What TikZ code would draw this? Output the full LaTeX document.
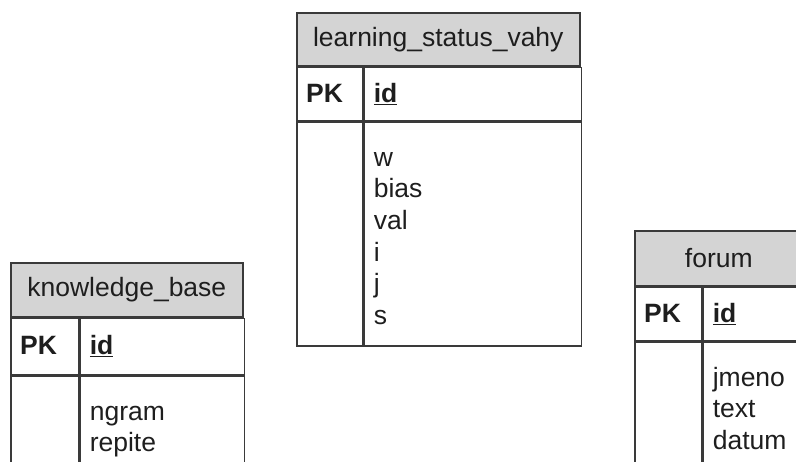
\documentclass[tikz,border=0pt]{standalone}
\usepackage{fontspec}
\setmainfont{Liberation Sans}
\usetikzlibrary{positioning}
\definecolor{tableline}{HTML}{3A3A3A}
\definecolor{headgray}{HTML}{D4D4D4}
\definecolor{textdark}{HTML}{1E1E1E}

\begin{document}
\begin{tikzpicture}
[x=1pt,y=-1pt,%
  cell/.style={rectangle,draw=tableline,line width=1.6pt,inner sep=0pt,anchor=north west},%
  head/.style={cell,fill=headgray,text=textdark,font=\fontsize{26.5}{31.5}\selectfont},%
  txt/.style={inner sep=0pt,anchor=base west,text=textdark,font=\fontsize{26.5}{31.5}\selectfont},%
  key/.style={txt,font=\fontsize{26.5}{31.5}\selectfont\bfseries}]
\useasboundingbox (0,0) rectangle (796,461);
\clip (0,0) rectangle (796,461);
% learning_status_vahy
\node[head,minimum width=283pt,minimum height=53pt] (lsvhead) at (296,12) {learning\_status\_vahy};
\node[cell,minimum width=66pt,minimum height=53pt] (lsvpk) at (lsvhead.south west) {};
\node[cell,minimum width=217pt,minimum height=53pt] (lsvid) at (lsvpk.north east) {};
\node[cell,minimum width=66pt,minimum height=224pt] (lsvbl) at (lsvpk.south west) {};
\node[cell,minimum width=217pt,minimum height=224pt] (lsvbr) at (lsvpk.south east) {};
\node[key,xshift=10pt,yshift=-8.5pt] (lsvpktxt) at (lsvpk.west) {PK};
\node[key,xshift=10pt,yshift=-8.5pt] (lsvidtxt) at (lsvid.west) {\underline{id}};
\foreach \a [count=\k] in {w,bias,val,i,j,s}
  \node[txt,xshift=10pt,yshift={-45pt-(\k-1)*31.6pt}] (lsv-\k) at (lsvbr.north west) {\a};
% knowledge_base
\node[head,minimum width=232pt,minimum height=54pt] (kbhead) at (10,262) {knowledge\_base};
\node[cell,minimum width=68pt,minimum height=56pt] (kbpk) at (kbhead.south west) {};
\node[cell,minimum width=164pt,minimum height=56pt] (kbid) at (kbpk.north east) {};
\node[cell,minimum width=68pt,minimum height=150pt] (kbbl) at (kbpk.south west) {};
\node[cell,minimum width=164pt,minimum height=150pt] (kbbr) at (kbpk.south east) {};
\node[key,xshift=10pt,yshift=-8.5pt] (kbpktxt) at (kbpk.west) {PK};
\node[key,xshift=10pt,yshift=-8.5pt] (kbidtxt) at (kbid.west) {\underline{id}};
\foreach \a [count=\k] in {ngram,repite}
  \node[txt,xshift=10pt,yshift={-45pt-(\k-1)*31.6pt}] (kb-\k) at (kbbr.north west) {\a};
% forum
\node[head,minimum width=168pt,minimum height=55pt] (fohead) at (634,230) {forum};
\node[cell,minimum width=67pt,minimum height=53pt] (fopk) at (fohead.south west) {};
\node[cell,minimum width=101pt,minimum height=53pt] (foid) at (fopk.north east) {};
\node[cell,minimum width=67pt,minimum height=180pt] (fobl) at (fopk.south west) {};
\node[cell,minimum width=101pt,minimum height=180pt] (fobr) at (fopk.south east) {};
\node[key,xshift=10pt,yshift=-8.5pt] (fopktxt) at (fopk.west) {PK};
\node[key,xshift=10pt,yshift=-8.5pt] (foidtxt) at (foid.west) {\underline{id}};
\foreach \a [count=\k] in {jmeno,text,datum}
  \node[txt,xshift=10pt,yshift={-45pt-(\k-1)*31.6pt}] (fo-\k) at (fobr.north west) {\a};
\end{tikzpicture}
\end{document}
